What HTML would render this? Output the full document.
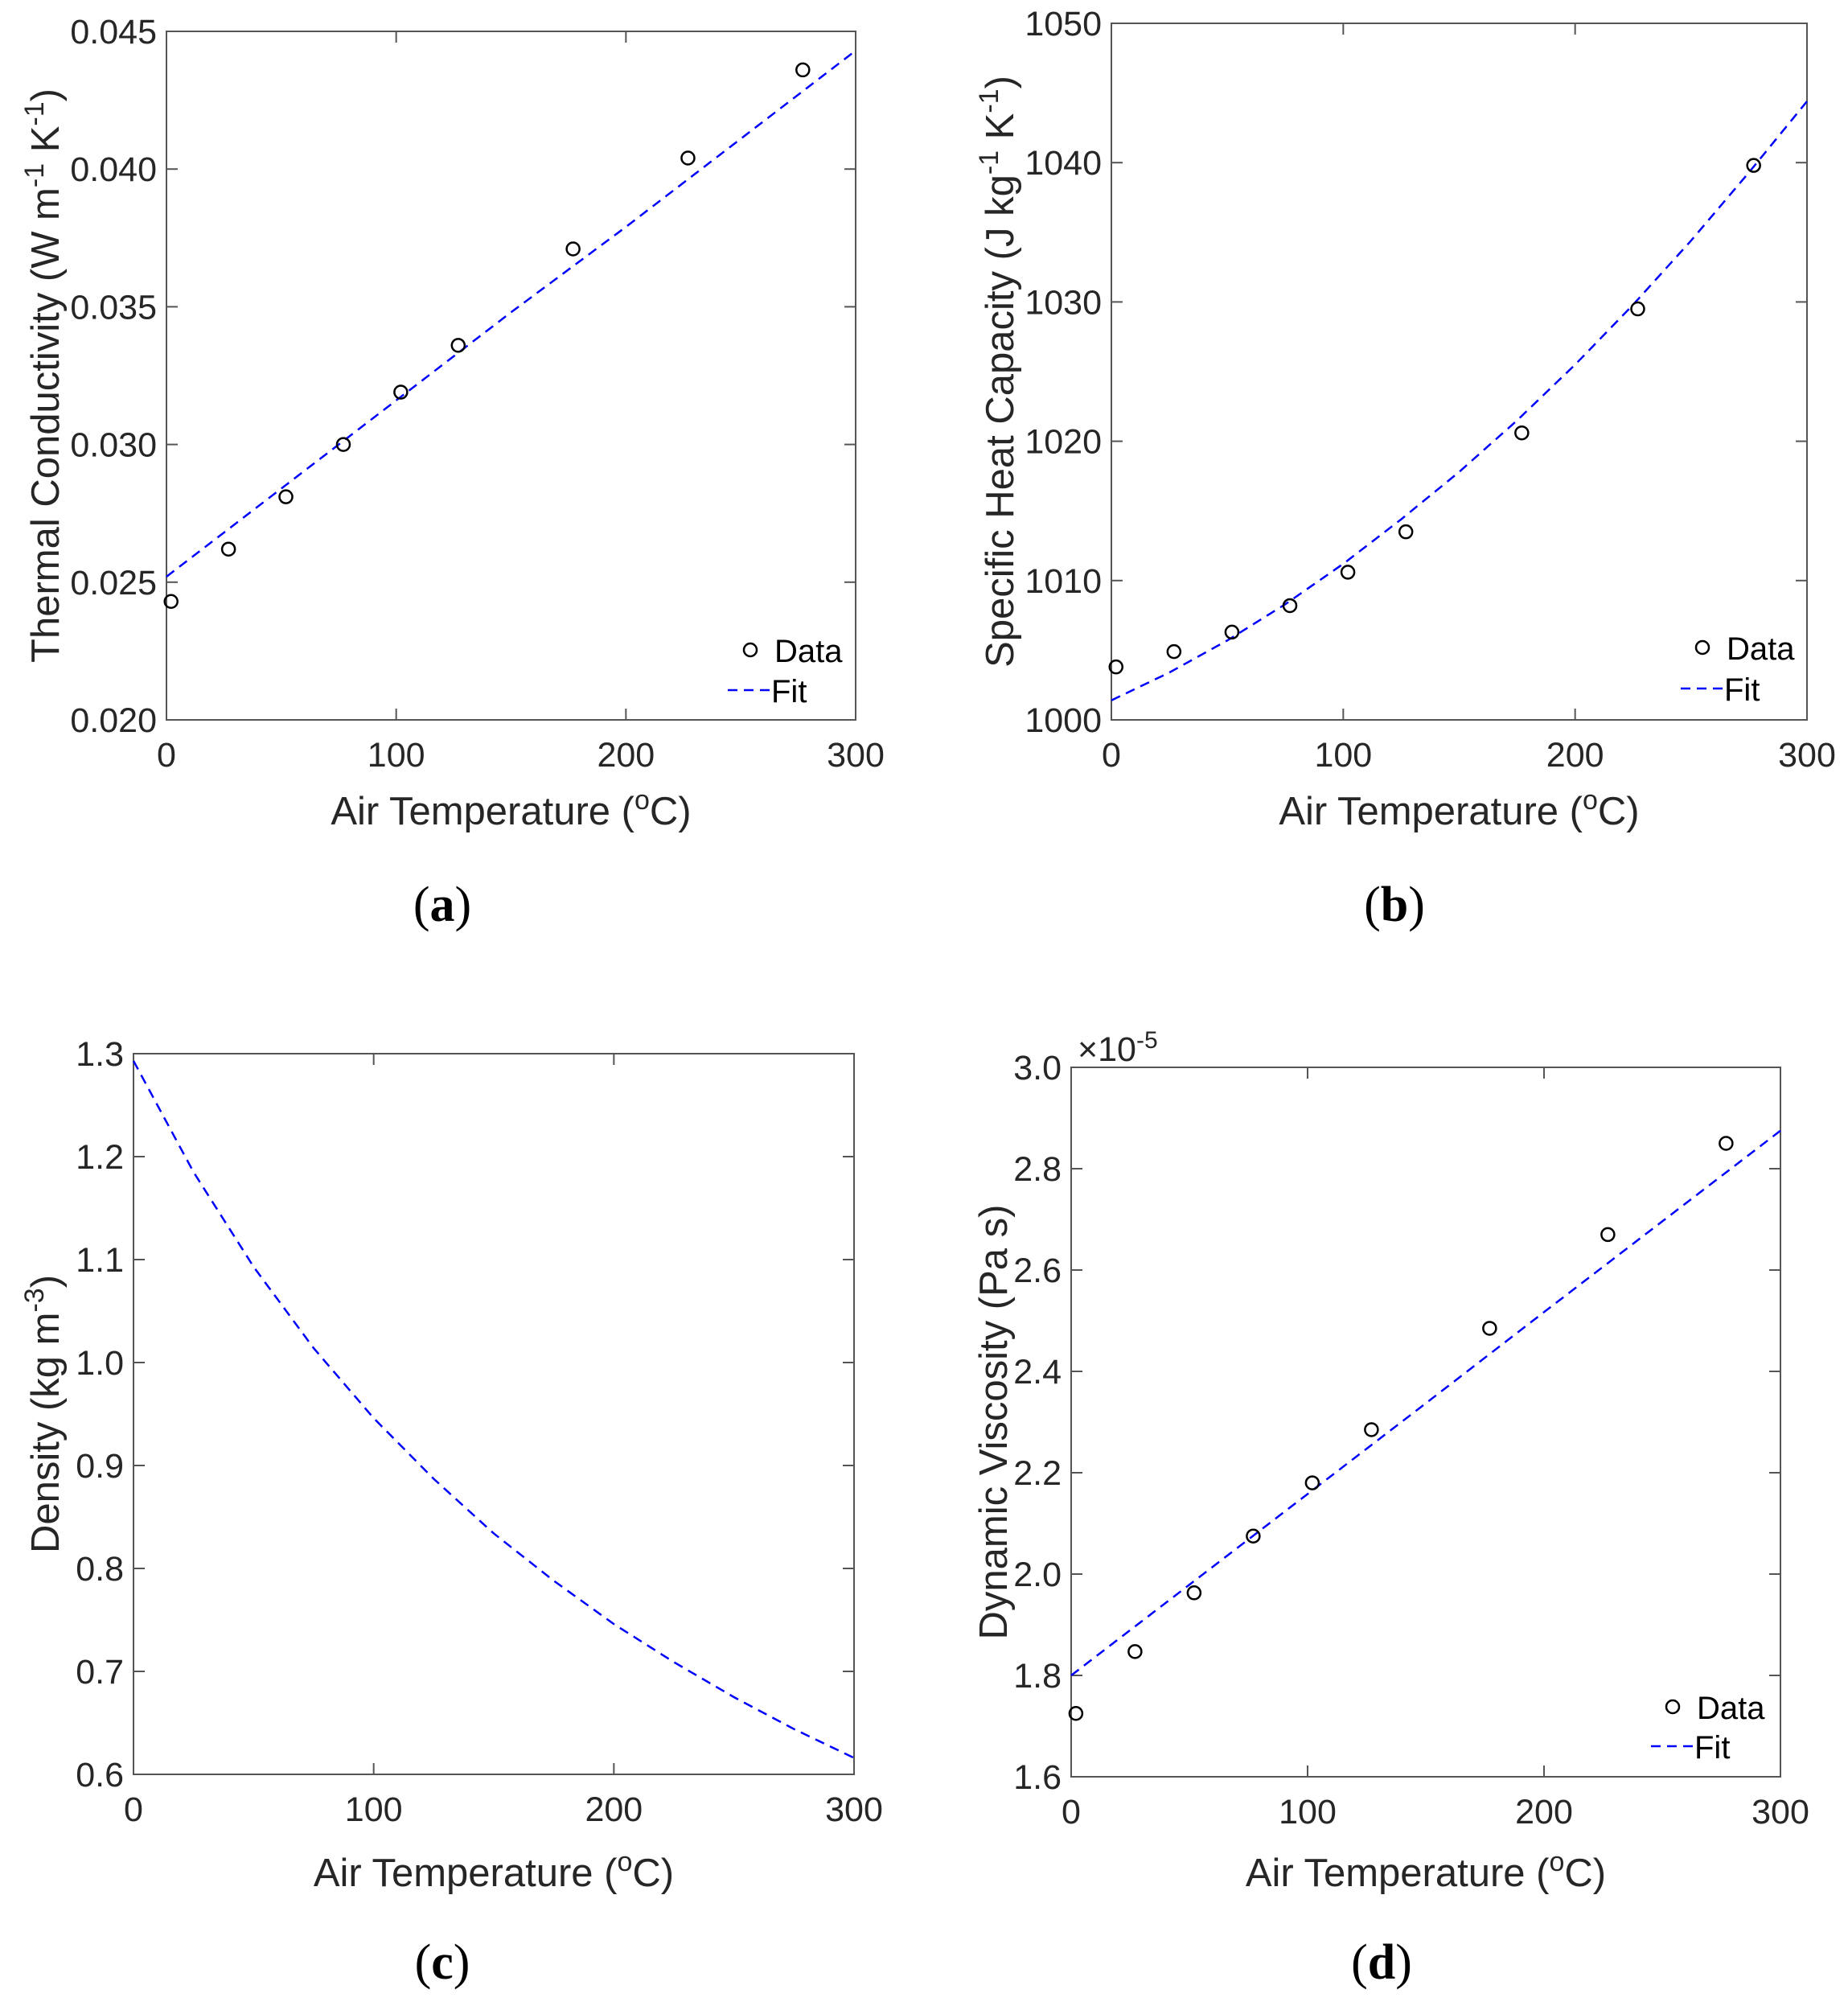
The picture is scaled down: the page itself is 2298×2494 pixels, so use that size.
<!DOCTYPE html>
<html><head><meta charset="utf-8"><style>
html,body{margin:0;padding:0;background:#fff;}
svg{display:block;font-family:"Liberation Sans",Arial,sans-serif;}
</style></head><body>
<svg id="fig" width="2298" height="2494" viewBox="0 0 2298 2494" xmlns="http://www.w3.org/2000/svg"></svg>
<script>
// ---- data ----
const dataTemps = [2, 27, 52, 77, 102, 127, 177, 227, 277];
const fitTempsA = [0, 50, 100, 150, 200, 250, 300];
const fitTempsB = [0, 25, 50, 75, 100, 125, 150, 175, 200, 225, 250, 275, 300];
const condData = [0.0243, 0.0262, 0.0281, 0.0300, 0.0319, 0.0336, 0.0371, 0.0404, 0.0436];
const condFit = [0.0252, 0.0284, 0.0316, 0.0348, 0.0379, 0.0411, 0.0443];
const heatData = [1003.8, 1004.9, 1006.3, 1008.2, 1010.6, 1013.5, 1020.6, 1029.5, 1039.8];
const heatFit = [1001.4, 1003.4, 1005.7, 1008.3, 1011.2, 1014.4, 1017.8, 1021.5, 1025.5, 1029.8, 1034.4, 1039.3, 1044.4];
const densTemps = [0, 25, 50, 75, 100, 125, 150, 175, 200, 225, 250, 275, 300];
const densFit = [1.293, 1.185, 1.093, 1.014, 0.946, 0.887, 0.834, 0.788, 0.746, 0.709, 0.675, 0.644, 0.616];
const viscData = [1.725, 1.847, 1.963, 2.075, 2.180, 2.285, 2.485, 2.670, 2.850];
const viscFit = [1.80, 1.979, 2.158, 2.337, 2.517, 2.696, 2.875];
const xTicks = [0, 100, 200, 300];
const yTicksA = [0.020, 0.025, 0.030, 0.035, 0.040, 0.045];
const yTicksB = [1000, 1010, 1020, 1030, 1040, 1050];
const yTicksC = [0.6, 0.7, 0.8, 0.9, 1.0, 1.1, 1.2, 1.3];
const yTicksD = [1.6, 1.8, 2.0, 2.2, 2.4, 2.6, 2.8, 3.0];

const NS = "http://www.w3.org/2000/svg";
const svg = document.getElementById('fig');
function mk(tag, attrs, parent){const e=document.createElementNS(NS,tag);for(const k in attrs)e.setAttribute(k,attrs[k]);(parent||svg).appendChild(e);return e;}

const panels = [
 {id:'a',L:207,R:1064,T:39,B:895,ymin:0.020,ymax:0.045,yt:yTicksA,dec:3,data:condData,fitX:fitTempsA,fit:condFit,
  ylab:[['Thermal Conductivity (W m',0],['-1',1],[' K',0],['-1',1],[')',0]],ylx:56,letter:'(a)',lx:550,ly:1145,xly:1025,
  leg:{mx:933,my:808,lx1:905,lx2:957,fy:858}},
 {id:'b',L:1382,R:2247,T:29,B:895,ymin:1000,ymax:1050,yt:yTicksB,dec:0,data:heatData,fitX:fitTempsB,fit:heatFit,
  ylab:[['Specific Heat Capacity (J kg',0],['-1',1],[' K',0],['-1',1],[')',0]],ylx:1243,letter:'(b)',lx:1734,ly:1145,xly:1025,
  leg:{mx:2117,my:805,lx1:2090,lx2:2142,fy:856}},
 {id:'c',L:166,R:1062,T:1310,B:2206,ymin:0.6,ymax:1.3,yt:yTicksC,dec:1,data:null,fitX:densTemps,fit:densFit,
  ylab:[['Density (kg m',0],['-3',1],[')',0]],ylx:56,letter:'(c)',lx:550,ly:2460,xly:2345,leg:null},
 {id:'d',L:1332,R:2214,T:1327,B:2209,ymin:1.6,ymax:3.0,yt:yTicksD,dec:1,data:viscData,fitX:fitTempsA,fit:viscFit,
  ylab:[['Dynamic Viscosity (Pa s)',0]],ylx:1235,letter:'(d)',lx:1718,ly:2460,xly:2345,
  leg:{mx:2080,my:2122,lx1:2053,lx2:2105,fy:2171},exp:true}
];

panels.forEach(p=>{
  const g = mk('g',{});
  
  
  const xs = v => p.L + (v-0)/(300-0)*(p.R-p.L);
  const ys = v => p.B - (v-p.ymin)/(p.ymax-p.ymin)*(p.B-p.T);
  const fr = mk('rect',{x:p.L,y:p.T,width:p.R-p.L,height:p.B-p.T,fill:'none',stroke:'#555','stroke-width':2},g);
  
  
  xTicks.forEach(t=>{
    const x=xs(t);
    mk('line',{x1:x,y1:p.B,x2:x,y2:p.B-14,stroke:'#555','stroke-width':2},g);
    mk('line',{x1:x,y1:p.T,x2:x,y2:p.T+14,stroke:'#555','stroke-width':2},g);
    const tx=mk('text',{x:x,y:p.B+58,'font-size':43,'text-anchor':'middle',fill:'#262626'},g);
    tx.textContent=t;
    
    
  });
  p.yt.forEach(t=>{
    const y=ys(t);
    mk('line',{x1:p.L,y1:y,x2:p.L+14,y2:y,stroke:'#555','stroke-width':2},g);
    mk('line',{x1:p.R,y1:y,x2:p.R-14,y2:y,stroke:'#555','stroke-width':2},g);
    const tx=mk('text',{x:p.L-12,y:y+15,'font-size':43,'text-anchor':'end',fill:'#262626'},g);
    tx.textContent=t.toFixed(p.dec);
    
    
  });
  const pts = p.fitX.map((t,i)=>xs(t)+','+ys(p.fit[i])).join(' ');
  const fl = mk('polyline',{points:pts,fill:'none',stroke:'#0000ff','stroke-width':2.5,'stroke-dasharray':'12 8'},g);
  
  
  if(p.data){
    p.data.forEach((v,i)=>{
      const c=mk('circle',{cx:xs(dataTemps[i]),cy:ys(v),r:8,fill:'none',stroke:'#000','stroke-width':2.5},g);
      
      
    });
  }
  if(p.leg){
    const lg=mk('g',{},g);
    
    
    mk('circle',{cx:p.leg.mx,cy:p.leg.my,r:8,fill:'none',stroke:'#000','stroke-width':2.5},lg);
    const t1=mk('text',{x:p.leg.mx+30,y:p.leg.my+15,'font-size':40,fill:'#000'},lg);t1.textContent='Data';
    mk('line',{x1:p.leg.lx1,y1:p.leg.fy,x2:p.leg.lx2,y2:p.leg.fy,stroke:'#0000ff','stroke-width':2.5,'stroke-dasharray':'12 8'},lg);
    const t2=mk('text',{x:p.leg.lx2+2,y:p.leg.fy+15,'font-size':40,fill:'#000'},lg);t2.textContent='Fit';
  }
  const xl=mk('text',{x:(p.L+p.R)/2,y:p.xly,'font-size':49,'text-anchor':'middle',fill:'#262626'},g);
  
  
  xl.appendChild(document.createTextNode('Air Temperature ('));
  const sup=mk('tspan',{'baseline-shift':'super','font-size':34},xl);sup.textContent='o';
  xl.appendChild(document.createTextNode('C)'));
  const yl=mk('text',{x:0,y:0,'font-size':49,'text-anchor':'middle',fill:'#262626',transform:`translate(${p.ylx+17},${(p.T+p.B)/2}) rotate(-90)`},g);
  
  
  p.ylab.forEach(([s,isSup])=>{
    if(isSup){const ts=mk('tspan',{'baseline-shift':'super','font-size':34},yl);ts.textContent=s;}
    else{yl.appendChild(document.createTextNode(s));}
  });
  if(p.exp){
    const ex=mk('text',{x:p.L+8,y:p.T-8,'font-size':43,fill:'#262626'},g);
    
    
    ex.appendChild(document.createTextNode('\u00d710'));
    const es=mk('tspan',{'baseline-shift':'super','font-size':30},ex);es.textContent='-5';
  }
  const lt=mk('text',{x:p.lx,y:p.ly,'font-size':62,'text-anchor':'middle','font-family':'"Liberation Serif",serif',fill:'#000'},g);
  
  
  lt.appendChild(document.createTextNode('('));
  const b=mk('tspan',{'font-weight':'bold'},lt);b.textContent=p.letter.slice(1,2);
  lt.appendChild(document.createTextNode(')'));
});
</script>
</body></html>
